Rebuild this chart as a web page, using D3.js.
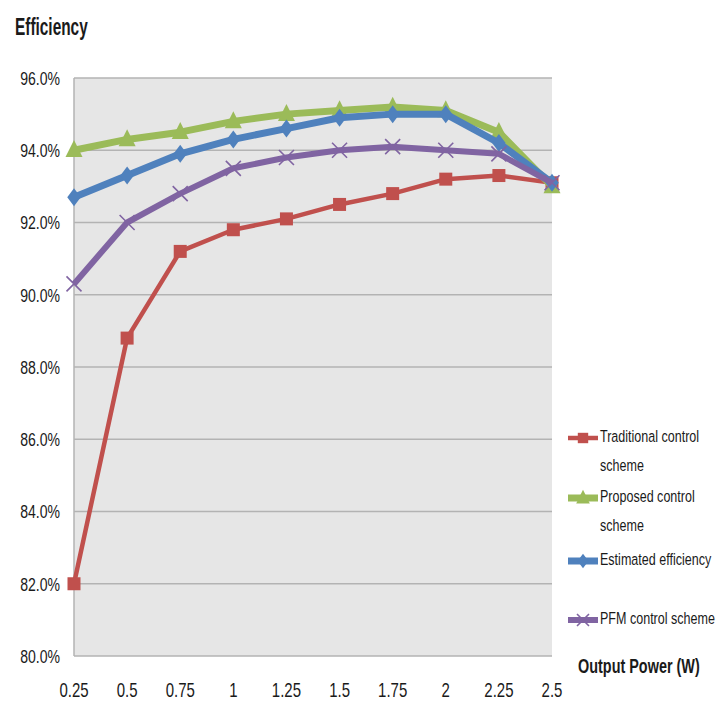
<!DOCTYPE html>
<html>
<head>
<meta charset="utf-8">
<script src="https://cdn.jsdelivr.net/npm/d3@7/dist/d3.min.js"></script>
<style>
  html, body { margin: 0; padding: 0; background: #fff; }
  svg { display: block; }
  text { font-family: "Liberation Sans", Arial, sans-serif; fill: #1a1a1a; }
</style>
</head>
<body>
<div id="chart"></div>
<script>
// ---- data ----
const categories = ["0.25", "0.5", "0.75", "1", "1.25", "1.5", "1.75", "2", "2.25", "2.5"];
const traditional = [82.0, 88.8, 91.2, 91.8, 92.1, 92.5, 92.8, 93.2, 93.3, 93.1];
const proposed    = [94.0, 94.3, 94.5, 94.8, 95.0, 95.1, 95.2, 95.1, 94.5, 93.0];
const estimated   = [92.7, 93.3, 93.9, 94.3, 94.6, 94.9, 95.0, 95.0, 94.2, 93.1];
const pfm         = [90.3, 92.0, 92.8, 93.5, 93.8, 94.0, 94.1, 94.0, 93.9, 93.1];
const seriesNames = ["Traditional control scheme", "Proposed control scheme", "Estimated efficiency", "PFM control scheme"];
const yTicks = [80, 82, 84, 86, 88, 90, 92, 94, 96];

const W = 718, H = 702;
const plot = { left: 74, right: 552, top: 78, bottom: 656 };

const svg = d3.select("#chart").append("svg").attr("width", W).attr("height", H);

const x = d3.scalePoint().domain(categories).range([plot.left, plot.right]);
const y = d3.scaleLinear().domain([80, 96]).range([plot.bottom, plot.top]);

// background
svg.append("rect")
  .attr("x", plot.left).attr("y", plot.top)
  .attr("width", plot.right - plot.left).attr("height", plot.bottom - plot.top)
  .attr("fill", "#e6e6e6");

// gridlines
svg.append("g").selectAll("line").data(yTicks).join("line")
  .attr("x1", plot.left).attr("x2", plot.right)
  .attr("y1", d => y(d)).attr("y2", d => y(d))
  .attr("stroke", "#b3b3b3").attr("stroke-width", 1.5);

// left axis line
svg.append("line")
  .attr("x1", plot.left).attr("x2", plot.left)
  .attr("y1", plot.top).attr("y2", plot.bottom)
  .attr("stroke", "#b3b3b3").attr("stroke-width", 1.5);

function condensedText(g, px, py, str, size, sx, anchor, weight) {
  return g.append("text")
    .attr("transform", `translate(${px},${py}) scale(${sx},1)`)
    .attr("text-anchor", anchor || "start")
    .attr("font-size", size)
    .attr("font-weight", weight || "normal")
    .attr("dominant-baseline", "middle")
    .text(str);
}

// y tick labels
const yAxisG = svg.append("g");
yTicks.forEach(t => {
  condensedText(yAxisG, 60, y(t) + 2, d3.format(".1f")(t) + "%", 18.5, 0.76, "end");
});

// x tick labels
const xAxisG = svg.append("g");
categories.forEach(c => {
  condensedText(xAxisG, x(c), 692, c, 20, 0.75, "middle");
});

// titles
condensedText(svg, 15, 29, "Efficiency", 23, 0.67, "start", "bold");
condensedText(svg, 578, 668, "Output Power (W)", 19.5, 0.74, "start", "bold");

const colors = ["#c0504d", "#9bbb59", "#4f81bd", "#8064a2"];
const widths = [4.5, 7, 7, 6];
const allSeries = [traditional, proposed, estimated, pfm];

function drawMarker(g, i, px, py, scale) {
  const s = scale || 1;
  const c = colors[i];
  if (i === 0) {
    g.append("rect").attr("x", px - 6.5 * s).attr("y", py - 6.5 * s)
      .attr("width", 13 * s).attr("height", 13 * s).attr("fill", c);
  } else if (i === 1) {
    const h = 8.5 * s;
    g.append("path").attr("d", `M${px},${py - h * 1.2}L${px + h},${py + h * 0.8}L${px - h},${py + h * 0.8}Z`).attr("fill", c);
  } else if (i === 2) {
    const h = 9 * s;
    g.append("path").attr("d", `M${px},${py - h}L${px + h * 0.75},${py}L${px},${py + h}L${px - h * 0.75},${py}Z`).attr("fill", c);
  } else {
    const h = 7.5 * s;
    g.append("path").attr("d", `M${px - h},${py - h}L${px + h},${py + h}M${px + h},${py - h}L${px - h},${py + h}`)
      .attr("stroke", c).attr("stroke-width", 1.6).attr("fill", "none");
  }
}

const line = d3.line().x((d, i) => x(categories[i])).y(d => y(d));

allSeries.forEach((vals, i) => {
  const g = svg.append("g");
  g.append("path").datum(vals).attr("d", line)
    .attr("fill", "none").attr("stroke", colors[i])
    .attr("stroke-width", widths[i]).attr("stroke-linejoin", "round");
  vals.forEach((v, j) => drawMarker(g, i, x(categories[j]), y(v)));
});

// legend
const legendItems = [
  { i: 0, y: 438, lines: ["Traditional control", "scheme"] },
  { i: 1, y: 498, lines: ["Proposed control", "scheme"] },
  { i: 2, y: 561, lines: ["Estimated efficiency"] },
  { i: 3, y: 620, lines: ["PFM control scheme"] }
];
const lg = svg.append("g");
legendItems.forEach(it => {
  lg.append("line").attr("x1", 568).attr("x2", 598).attr("y1", it.y).attr("y2", it.y)
    .attr("stroke", colors[it.i]).attr("stroke-width", widths[it.i]);
  drawMarker(lg, it.i, 583, it.y, 0.8);
  it.lines.forEach((t, k) => {
    condensedText(lg, 600, it.y + k * 29, t, 16.5, 0.76, "start");
  });
});
</script>
</body>
</html>
